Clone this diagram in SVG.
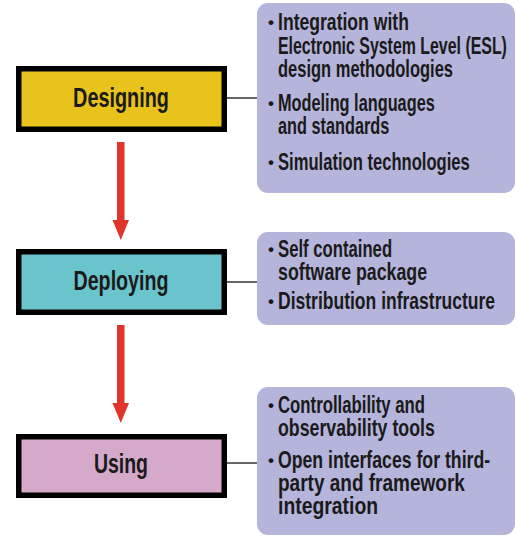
<svg xmlns="http://www.w3.org/2000/svg" width="516" height="537" viewBox="0 0 516 537">
<style>
.stage{stroke:#000;stroke-width:5.5}
.title{font-family:"Liberation Sans",Arial,sans-serif;font-weight:bold;font-size:28px;fill:#1a1a1a;text-anchor:middle}
.panel{fill:#B5B4DA}
.item{font-family:"Liberation Sans",Arial,sans-serif;font-weight:bold;font-size:23px;fill:#1a1a1a}
.bullet{font-family:"Liberation Sans",Arial,sans-serif;font-weight:bold;font-size:17px;fill:#1a1a1a}
.link{stroke:#333;stroke-width:1.5;fill:none}
.arrow{fill:#E0352D}
</style>
<g id="connectors">
<line class="link" x1="227" y1="98" x2="258" y2="98"/>
<line class="link" x1="227" y1="282" x2="258" y2="282"/>
<line class="link" x1="227" y1="463" x2="258" y2="463"/>
<polygon class="arrow" points="117,142 124.5,142 124.5,220 129,220 120.8,240 112.5,220 117,220"/>
<polygon class="arrow" points="117,325 124.5,325 124.5,403 129,403 120.8,423 112.5,403 117,403"/>
</g>
<g id="designing">
<rect class="stage" x="18.75" y="68.75" width="205.5" height="60.5" fill="#E8C31B"/>
<g transform="translate(121,0) scale(0.72,1)"><text class="title" x="0" y="107" textLength="133" lengthAdjust="spacingAndGlyphs">Designing</text></g>
</g>
<g id="deploying">
<rect class="stage" x="18.75" y="251.75" width="205.5" height="60.5" fill="#6AC4CB"/>
<g transform="translate(121,0) scale(0.72,1)"><text class="title" x="0" y="290" textLength="132" lengthAdjust="spacingAndGlyphs">Deploying</text></g>
</g>
<g id="using">
<rect class="stage" x="18.75" y="436.75" width="205.5" height="58.5" fill="#D4A9CA"/>
<g transform="translate(121,0) scale(0.72,1)"><text class="title" x="0" y="473" textLength="75" lengthAdjust="spacingAndGlyphs">Using</text></g>
</g>
<g id="design-details">
<rect class="panel" x="257" y="3" width="258" height="190" rx="11"/>
<text class="bullet" x="268" y="28">•</text>
<text class="bullet" x="268" y="109">•</text>
<text class="bullet" x="268" y="168">•</text>
<g transform="translate(278,0) scale(0.7,1)">
<text class="item" x="0" y="30" textLength="187" lengthAdjust="spacingAndGlyphs">Integration with</text>
<text class="item" x="0" y="54" textLength="327" lengthAdjust="spacingAndGlyphs">Electronic System Level (ESL)</text>
<text class="item" x="0" y="77" textLength="250" lengthAdjust="spacingAndGlyphs">design methodologies</text>
<text class="item" x="0" y="111" textLength="224" lengthAdjust="spacingAndGlyphs">Modeling languages</text>
<text class="item" x="0" y="134" textLength="159" lengthAdjust="spacingAndGlyphs">and standards</text>
<text class="item" x="0" y="170" textLength="274" lengthAdjust="spacingAndGlyphs">Simulation technologies</text>
</g>
</g>
<g id="deploy-details">
<rect class="panel" x="257" y="232" width="258" height="93" rx="11"/>
<text class="bullet" x="268" y="255">•</text>
<text class="bullet" x="268" y="307">•</text>
<g transform="translate(278,0) scale(0.7,1)">
<text class="item" x="0" y="257" textLength="163" lengthAdjust="spacingAndGlyphs">Self contained</text>
<text class="item" x="0" y="280" textLength="213" lengthAdjust="spacingAndGlyphs">software package</text>
<text class="item" x="0" y="309" textLength="310" lengthAdjust="spacingAndGlyphs">Distribution infrastructure</text>
</g>
</g>
<g id="using-details">
<rect class="panel" x="257" y="387" width="258" height="148" rx="11"/>
<text class="bullet" x="268" y="411">•</text>
<text class="bullet" x="268" y="466">•</text>
<g transform="translate(278,0) scale(0.7,1)">
<text class="item" x="0" y="413" textLength="210" lengthAdjust="spacingAndGlyphs">Controllability and</text>
<text class="item" x="0" y="436" textLength="224" lengthAdjust="spacingAndGlyphs">observability tools</text>
<text class="item" x="0" y="468" textLength="303" lengthAdjust="spacingAndGlyphs">Open interfaces for third-</text>
<text class="item" x="0" y="491" textLength="267" lengthAdjust="spacingAndGlyphs">party and framework</text>
<text class="item" x="0" y="514" textLength="143" lengthAdjust="spacingAndGlyphs">integration</text>
</g>
</g>
</svg>
